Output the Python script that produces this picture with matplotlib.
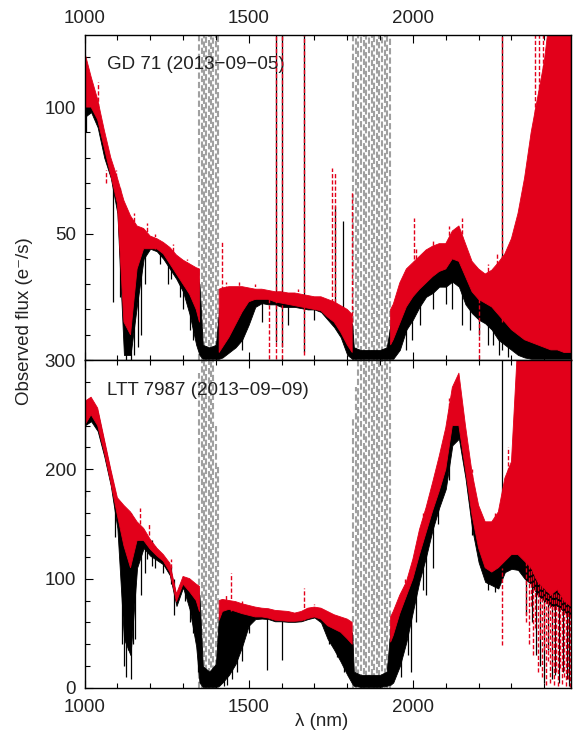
import numpy as np
import matplotlib
matplotlib.use("Agg")
import matplotlib.pyplot as plt
from matplotlib.ticker import MultipleLocator, FixedLocator

plt.rcParams['font.family'] = ['Liberation Sans', 'DejaVu Sans']

nan = np.nan

# Wavelength grid (nm) on which the flux envelopes are sampled
wavelength = [1000, 1020, 1040, 1060, 1080, 1100, 1120, 1140, 1160, 1180,
              1200, 1220, 1240, 1260, 1280, 1300, 1320, 1340, 1350, 1360,
              1380, 1400, 1410, 1420, 1440, 1460, 1480, 1500, 1520, 1540,
              1560, 1580, 1600, 1620, 1640, 1660, 1680, 1700, 1720, 1740,
              1760, 1780, 1800, 1815, 1820, 1840, 1860, 1880, 1900, 1920,
              1932, 1940, 1960, 1980, 2000, 2020, 2040, 2060, 2080, 2100,
              2120, 2140, 2160, 2180, 2200, 2220, 2240, 2260, 2280, 2300,
              2320, 2340, 2360, 2380, 2400, 2420, 2440, 2460, 2480]

# ---- GD 71 (2013-09-05) ----
gd71_red_hi = [122, 112, 103, 91, 80, 72, 63, 57, 53, 52, 49, 48, 46.5, 44.5, 41.5, 39.5, 38, 36.5, 36,
               nan, nan, nan,
               28, 28.5, 29, 29, 29, 28.5, 28, 28, 27.5, 27, 27, 26.5, 26.5, 26, 25.5, 25, 25, 24, 23, 21.5, 20, 18,
               nan, nan, nan, nan, nan, nan,
               20, 22, 30.5, 36, 38.5, 41, 43.5, 45, 46, 46, 51, 53, 46, 39, 36, 34, 35.5, 38.5, 42, 48, 58, 72,
               90, 104, 118, 140, 160, 170, 180]
gd71_red_lo = [100, 100, 95, 84, 73, 62, 15, 10, 36, 44, 44, 44, 42, 38, 34, 30, 26, 20, 15,
               nan, nan, nan,
               3, 5, 9, 14, 19, 23, 24, 24, 24, 23, 22.5, 22, 21.5, 21, 20.5, 20, 19.5, 17, 15, 11, 6, 3,
               nan, nan, nan, nan, nan, nan,
               6, 8, 14.5, 21, 25, 28, 30.5, 33, 35, 36, 40, 39, 33, 27, 24, 22.5, 21, 18, 15, 12, 10, 8,
               7, 6, 5, 4, 4, 3, 3]
gd71_blk_hi = [112, 108, 100, 88, 77, 68, 58, 52, 49, 48, 47, 46, 44, 42, 39, 37, 35, 33, 30,
               6, 5, 6,
               20, 24, 26, 27, 27, 27, 27, 27, 26.5, 26, 26, 25.5, 25.5, 25, 24.5, 24, 24, 23, 22, 20, 18, 14,
               5, 4, 4, 4, 4, 5,
               14, 18, 27, 32, 35, 38, 40, 42, 43, 43, 48, 49, 43, 36, 33, 31, 32, 34, 38, 43, 52, 65,
               80, 95, 105, 125, 140, 150, 160]
gd71_blk_lo = [96, 98, 92, 80, 72, 58, 2, 2, 22, 40, 44, 43, 40, 36, 32, 27, 18, 6, 2,
               0.5, 0.5, 0.5,
               0.5, 1, 3, 5, 8, 14, 21, 22.5, 22, 22, 21, 21, 21, 20.5, 20, 20, 19, 16, 13, 9, 2, 0.5,
               0.5, 0.5, 0.5, 0.5, 0.5, 0.5,
               0.5, 0.5, 4, 12, 16, 21, 25, 26.5, 29, 29, 31, 29, 22, 18.5, 16, 14.5, 12, 8, 6, 4, 2, 1,
               0.5, 0.5, 0.5, 0.5, 0.5, 0.5, 0.5]

gd71_black_line_wave = [1003, 1088, 1108, 1125, 1140, 1150, 1163, 1172, 1183, 1230, 1255, 1262,
                        1290, 1300, 1320, 1330, 1480, 1540, 1584, 1601, 1620, 1669, 1700,
                        1762, 1788, 1980, 1998, 2020, 2060, 2100, 2120, 2150, 2175, 2200,
                        2230, 2245, 2262, 2270, 2290]
gd71_black_line_low = [90, 23, 25, 0, 0, 2, 5, 10, 30, 38, 30, 32,
                       25, 20, 12, 8, 4, 15, 7, 5, 14, 3, 16,
                       20, 20, 4, 8, 14, 20, 22, 20, 14, 12, 10,
                       6, 6, 2, 4, 1]
gd71_black_line_high = [105, 72, 68, 60, 55, 54, 50, 50, 50, 46, 42, 42,
                        38, 37, 35, 36, 27, 27, 135, 135, 25, 135, 24,
                        61, 55, 30, 30, 38, 40, 43, 46, 45, 33, 33,
                        32, 30, 32, 135, 38]

gd71_red_line_wave = [1040, 1065, 1095, 1150, 1190, 1215, 1270, 1313, 1418, 1430, 1470,
                      1520, 1563, 1584, 1601, 1650, 1669, 1755, 1763, 1813, 2002, 2010,
                      2060, 2110, 2150, 2200, 2230, 2255, 2270, 2372, 2384, 2396]
gd71_red_line_low = [95, 70, 65, 50, 46, 44, 38, 32, 20, 20, 22,
                     24, 0.5, 0.5, 0.5, 22, 2, 20, 20, 15, 30, 30,
                     38, 42, 40, 0.5, 30, 33, 15, 90, 100, 110]
gd71_red_line_high = [110, 75, 75, 58, 54, 50, 46, 40, 47, 31, 31,
                      30, 24, 135, 135, 28, 135, 76, 74, 67, 56, 44,
                      48, 53, 56, 25, 38, 42, 135, 135, 135, 135]

# ---- LTT 7987 (2013-09-09) ----
ltt_red_hi = [262, 266, 256, 228, 200, 174, 167, 161, 152, 146, 136, 128, 122, 114, 86, 102, 100, 95, 93,
              nan, nan, nan,
              80, 81, 80, 79, 77, 75.5, 74, 73, 72.5, 71, 70.5, 70, 68.5, 70, 73, 74, 73, 70, 67, 65, 63, 60,
              nan, nan, nan, nan, nan, nan,
              65, 70, 85, 97, 118, 145, 165, 188, 212, 238, 275, 288, 240, 197, 167, 152, 152, 161, 192, 207,
              320, 340, 350, 360, 370, 380, 390, 400, 410]
ltt_red_lo = [240, 250, 240, 216, 188, 158, 130, 110, 135, 135, 127, 121, 116, 106, 79, 95, 88, 80, 70,
              nan, nan, nan,
              62, 70, 72, 70, 68, 66.5, 65, 65, 64, 62, 61.5, 61, 61, 61.5, 63.5, 65, 63, 57, 54, 51, 45, 40,
              nan, nan, nan, nan, nan, nan,
              42, 48, 68, 84, 100, 122, 142, 162, 180, 200, 240, 240, 200, 158, 128, 110, 106, 110, 116, 122,
              122, 116, 110, 97, 91, 85, 90, 80, 75]
ltt_blk_hi = [255, 262, 252, 224, 196, 168, 160, 155, 147, 141, 132, 124, 119, 110, 83, 99, 96, 90, 85,
              20, 15, 22,
              70, 74, 75, 74, 72, 71, 70, 69, 68, 67, 66, 66, 65, 66, 69, 70, 69, 66, 63, 60, 58, 50,
              15, 12, 12, 12, 12, 15,
              55, 60, 75, 88, 108, 130, 150, 172, 195, 222, 262, 272, 222, 180, 150, 135, 135, 140, 165, 180,
              220, 240, 260, 280, 290, 300, 310, 320, 330]
ltt_blk_lo = [240, 244, 235, 212, 185, 146, 45, 30, 110, 128, 121, 117, 113, 103, 75, 92, 72, 38, 5,
              1, 1, 1,
              2, 5, 12, 22, 38, 57, 63, 63.5, 63, 61, 61, 60.5, 60.5, 61, 63, 64.5, 60, 45, 35, 24, 12, 4,
              2, 1, 1, 1, 1, 2,
              3, 5, 20, 42, 70, 98, 120, 145, 165, 182, 222, 228, 192, 146, 115, 97, 94, 91, 106, 109,
              108, 100, 95, 85, 80, 75, 75, 70, 65]

ltt_black_line_wave = [1002, 1092, 1113, 1120, 1127, 1133, 1140, 1147, 1155, 1172, 1183, 1190,
                       1205, 1215, 1240, 1262, 1273, 1305, 1320, 1330, 1345, 1425, 1435, 1450,
                       1465, 1480, 1500, 1555, 1600, 1745, 1770, 1790, 1965, 1985, 1995, 2010,
                       2030, 2040, 2062, 2075, 2110, 2180, 2230, 2250, 2272,
                       2345, 2362, 2375, 2388, 2400, 2412, 2422, 2434, 2446, 2458, 2468, 2476]
ltt_black_line_low = [175, 138, 40, 20, 10, 35, 8, 40, 45, 85, 105, 118,
                      112, 110, 105, 95, 67, 80, 60, 50, 15, 2, 3, 8,
                      15, 25, 50, 16, 26, 40, 28, 15, 10, 30, 15, 60,
                      90, 85, 110, 150, 190, 140, 90, 88, 106,
                      67, 60, 30, 20, 5, 35, 8, 12, 5, 15, 8, 2]
ltt_black_line_high = [240, 170, 165, 165, 162, 160, 160, 155, 152, 145, 140, 138,
                       135, 130, 120, 112, 100, 100, 98, 96, 92, 78, 78, 76,
                       75, 73, 72, 68, 66, 68, 66, 62, 70, 90, 110, 110,
                       140, 150, 175, 190, 230, 180, 140, 145, 310,
                       120, 115, 105, 100, 95, 95, 90, 90, 90, 85, 85, 80]

ltt_red_line_wave = [1170, 1195, 1262, 1430, 1445, 1480, 1668, 1700, 1975, 2030, 2110, 2180,
                     2250, 2272, 2290,
                     2343, 2352, 2358, 2366, 2372, 2380, 2386, 2392, 2398, 2404, 2410, 2418,
                     2424, 2430, 2436, 2442, 2448, 2454, 2460, 2466, 2472, 2478]
ltt_red_line_low = [150, 140, 110, 75, 70, 70, 62, 70, 85, 140, 240, 180,
                    140, 39, 180,
                    60, 40, 75, 30, 55, 15, 45, 10, 35, 3, 25, 5,
                    20, 3, 15, 2, 18, 4, 10, 2, 8, 1]
ltt_red_line_high = [165, 150, 118, 85, 105, 80, 91, 77, 100, 160, 265, 200,
                     160, 110, 220,
                     118, 116, 114, 112, 110, 105, 100, 98, 95, 93, 91, 89,
                     87, 86, 88, 90, 88, 85, 83, 81, 78, 76]

# Telluric-dominated stretches (plotted in grey)
telluric_wave_1 = [1350, 1357, 1364, 1371, 1378, 1385, 1392, 1399, 1406]
telluric_wave_2 = [1818, 1826, 1834, 1842, 1850, 1858, 1866, 1874, 1882, 1890,
                   1898, 1906, 1914, 1922, 1930]
gd71_telluric_top_1 = [135, 135, 135, 135, 135, 135, 135, 135, 135]
gd71_telluric_top_2 = [135, 135, 135, 135, 135, 135, 135, 135, 135, 135, 135, 135, 135, 135, 135]
ltt_telluric_top_1 = [288, 305, 305, 305, 305, 305, 305, 240, 205]
ltt_telluric_top_2 = [247, 275, 305, 305, 305, 305, 305, 305, 305, 305, 305, 305, 305, 305, 305]

RED = '#e2001a'
GREY = '#a0a0a0'
TXT = '#222222'
FS = 13.5
DASH_PHASES = [0.0, 1.6, 3.1, 0.8, 2.4, 3.7, 1.2, 2.9, 0.4, 2.0, 3.4, 1.0, 2.6, 0.2, 1.8]


def draw_spectrum(ax, red_hi, red_lo, blk_hi, blk_lo,
                  bl_wave, bl_low, bl_high, rl_wave, rl_low, rl_high,
                  tel_tops):
    w = np.array(wavelength, dtype=float)
    for tw, tt in zip((telluric_wave_1, telluric_wave_2), tel_tops):
        styles = [(DASH_PHASES[i % len(DASH_PHASES)], (3, 1.5)) for i in range(len(tw))]
        ax.vlines(tw, 0, tt, colors=GREY, linestyles=styles,
                  linewidth=1.5, zorder=1)
    ax.fill_between(w, np.array(blk_lo, float), np.array(blk_hi, float),
                    facecolor='black', edgecolor='black', linewidth=0.6, zorder=2)
    ax.vlines(bl_wave, bl_low, bl_high, colors='black', linewidth=0.9, zorder=2)
    ax.fill_between(w, np.array(red_lo, float), np.array(red_hi, float),
                    facecolor=RED, edgecolor=RED, linewidth=0.6, zorder=3)
    ax.vlines(rl_wave, rl_low, rl_high, colors=RED, linestyles=(0, (3, 1.5)),
              linewidth=1.0, zorder=4)


fig = plt.figure(figsize=(5.79, 7.40), dpi=100)
ax_top = fig.add_axes([0.146, 0.5135, 0.840, 0.4392])
ax_bot = fig.add_axes([0.146, 0.0703, 0.840, 0.4432])

draw_spectrum(ax_top, gd71_red_hi, gd71_red_lo, gd71_blk_hi, gd71_blk_lo,
              gd71_black_line_wave, gd71_black_line_low, gd71_black_line_high,
              gd71_red_line_wave, gd71_red_line_low, gd71_red_line_high,
              (gd71_telluric_top_1, gd71_telluric_top_2))
draw_spectrum(ax_bot, ltt_red_hi, ltt_red_lo, ltt_blk_hi, ltt_blk_lo,
              ltt_black_line_wave, ltt_black_line_low, ltt_black_line_high,
              ltt_red_line_wave, ltt_red_line_low, ltt_red_line_high,
              (ltt_telluric_top_1, ltt_telluric_top_2))

ax_top.set_ylim(0, 128.5)
ax_bot.set_ylim(0, 300)
for ax in (ax_top, ax_bot):
    ax.set_xlim(1000, 2481)
    ax.xaxis.set_major_locator(MultipleLocator(500))
    ax.xaxis.set_minor_locator(MultipleLocator(100))
    ax.tick_params(which='both', direction='in', top=True, bottom=True,
                   left=True, right=False, colors='black', labelcolor=TXT,
                   labelsize=FS, width=0.8)
    ax.tick_params(which='major', length=6)
    ax.tick_params(which='minor', length=3.5)
    ax.tick_params(axis='y', which='major', pad=6)
    ax.tick_params(axis='x', which='major', pad=8)
    for sp in ax.spines.values():
        sp.set_linewidth(1.0)
        sp.set_zorder(6)

ax_top.yaxis.set_major_locator(FixedLocator([50, 100]))
ax_top.yaxis.set_minor_locator(MultipleLocator(10))
ax_top.tick_params(labeltop=True, labelbottom=False)
ax_top.tick_params(axis='x', which='major', pad=6)
ax_bot.yaxis.set_major_locator(MultipleLocator(100))
ax_bot.yaxis.set_minor_locator(MultipleLocator(20))

ax_top.text(0.046, 0.908, 'GD 71 (2013\u221209\u221205)', transform=ax_top.transAxes,
            fontsize=FS, color=TXT, ha='left', va='center')
ax_bot.text(0.046, 0.9085, 'LTT 7987 (2013\u221209\u221209)', transform=ax_bot.transAxes,
            fontsize=FS, color=TXT, ha='left', va='center')

fig.text(25 / 579, 1 - 321 / 740, 'Observed flux (e\u207b/s)', rotation=90,
         ha='center', va='center', fontsize=FS, color=TXT)
fig.text(322 / 579, 1 - 722 / 740, '\u03bb (nm)', ha='center', va='center',
         fontsize=FS, color=TXT)

fig.savefig('out.png', dpi=100)
